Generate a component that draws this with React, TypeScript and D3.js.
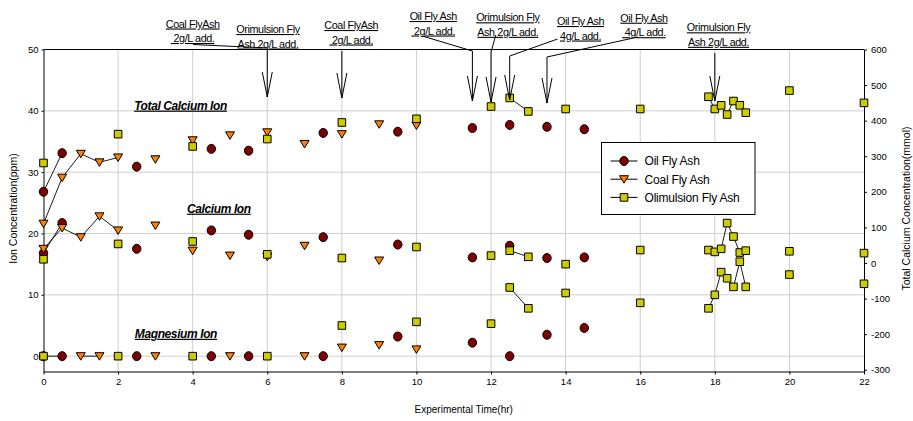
import { useEffect, useRef } from "react";
import { select, scaleLinear, axisLeft, axisRight, axisBottom, line } from "d3";

// sampling times (hr)
const oilTimes = [0, 0.5, 2.5, 4.5, 5.5, 7.5, 9.5, 11.5, 12.5, 13.5, 14.5];
const coalTimes = [0, 0.5, 1, 1.5, 2, 3, 4, 5, 6, 7, 8, 9, 10];
const olimTimes = [0, 2, 4, 6, 8, 10, 12, 12.5, 13, 14, 16, 17.83, 18, 18.17, 18.33, 18.5, 18.67, 18.83, 20, 22];

// Oil Fly Ash (ppm)
const oilTotal = [26.8, 33.1, 30.9, 33.8, 33.5, 36.4, 36.6, 37.2, 37.7, 37.4, 37.0];
const oilCalcium = [16.8, 21.7, 17.5, 20.5, 19.8, 19.4, 18.2, 16.1, 18.0, 16.0, 16.1];
const oilMagnesium = [0, 0, 0, 0, 0, 0, 3.2, 2.2, 0, 3.5, 4.6];

// Coal Fly Ash (ppm), null = hidden / not measured
const coalTotal = [21.6, 29.1, 33.0, 31.6, 32.4, 32.1, 35.2, 36.0, 36.5, 34.6, 36.2, 37.8, 37.6];
const coalCalcium = [17.5, 20.9, 19.4, 22.8, 20.5, 21.3, 17.2, 16.4, 16.2, 18.0, null, 15.6, null];
const coalMagnesium = [null, null, 0, 0, null, 0, null, 0, null, 0, 1.4, 1.8, 1.1];

// Olimulsion Fly Ash (ppm)
const olimTotal = [31.5, 36.2, 34.2, 35.4, 38.1, 38.7, 40.7, 42.1, 39.9, 40.3, 40.3, 42.3, 40.3, 40.9, 39.4, 41.6, 40.9, 39.7, 43.3, 41.3];
const olimCalcium = [15.8, 18.3, 18.7, 16.6, 16.0, 17.8, 16.4, 17.2, 16.2, 15.0, 17.3, 17.3, 17.0, 17.5, 21.7, 19.5, 16.9, 17.2, 17.1, 16.8];
const olimMagnesium = [0, 0, 0, 0, 5.0, 5.6, 5.3, 11.2, 7.8, 10.3, 8.7, 7.8, 10.0, 13.7, 12.7, 11.3, 15.4, 11.3, 13.3, 11.8];

// runs of points joined by a line (times)
const oilLinks = [[0, 0.5]];
const coalLinks = [[0, 0.5, 1, 1.5, 2]];
const coalMgLinks = [[1, 1.5]];
const olimLinks = [[12.5, 13], [17.83, 18, 18.17, 18.33, 18.5, 18.67, 18.83]];

const seriesNames = ["Oil Fly Ash", "Coal Fly Ash", "Olimulsion Fly Ash"];
const xTicks = [0, 2, 4, 6, 8, 10, 12, 14, 16, 18, 20, 22];
const yTicks = [0, 10, 20, 30, 40, 50];
const yRightTicks = [-300, -200, -100, 0, 100, 200, 300, 400, 500, 600];

const ionLabels = ["Total Calcium Ion", "Calcium Ion", "Magnesium Ion"];
const ionLabelAt = [[2.43, 40.2], [3.85, 23.4], [2.45, 3.0]];

const noteTexts = [
    ["Coal FlyAsh", " 2g/L add."],
    ["Orimulsion Fly", "Ash 2g/L add."],
    ["Coal FlyAsh", " 2g/L add."],
    ["Oil Fly Ash", " 2g/L add."],
    ["Orimulsion Fly", "Ash 2g/L add."],
    ["Oil Fly Ash", "4g/L add."],
    ["Oil Fly Ash", " 4g/L add."],
    ["Orimulsion Fly", "Ash 2g/L add."],
];
const noteAt = [4.0, 6.02, 8.25, 10.45, 12.45, 14.4, 16.1, 18.1];
const arrowTimes = [6, 8, 11.5, 12, 12.5, 13.5, 18];

const W = 913;
const H = 421;
const FONT = "'Liberation Sans', Arial, sans-serif";

function App() {
    const svgRef = useRef<SVGSVGElement>(null);

    useEffect(() => {
        const svg = select(svgRef.current);
        svg.selectAll("*").remove();

        const left = 43.5, right = 864, top = 49.5, bottom = 371.5;
        const xScale = scaleLinear().domain([0, 22]).range([left, right]);
        const yScale = scaleLinear().domain([-2.5, 50]).range([bottom, top]);
        const yRight = scaleLinear().domain([-305, 600]).range([bottom, top]);

        // grid
        const grid = svg.append("g").attr("stroke", "#cfcfcf").attr("stroke-width", 1);
        xTicks.slice(1, -1).forEach((t) => {
            grid.append("line").attr("x1", xScale(t)).attr("x2", xScale(t)).attr("y1", top).attr("y2", bottom);
        });
        yTicks.slice(0, -1).forEach((v) => {
            grid.append("line").attr("x1", left).attr("x2", right).attr("y1", yScale(v)).attr("y2", yScale(v));
        });

        // axes
        const styleAxis = (g: any) => {
            g.selectAll("text").style("font-family", FONT).style("font-size", "9.5px").attr("fill", "#000");
            g.selectAll("line").attr("stroke", "#000");
            g.select(".domain").attr("stroke", "#000");
        };
        svg.append("g")
            .attr("transform", `translate(${left},0)`)
            .call(axisLeft(yScale).tickValues(yTicks).tickSize(2).tickSizeOuter(0).tickPadding(3).tickFormat((d: any) => String(d)))
            .call(styleAxis);
        svg.append("g")
            .attr("transform", `translate(${right},0)`)
            .call(axisRight(yRight).tickValues(yRightTicks).tickSize(3).tickSizeOuter(0).tickPadding(4).tickFormat((d: any) => String(d)))
            .call(styleAxis);
        svg.append("g")
            .attr("transform", `translate(0,${bottom})`)
            .call(axisBottom(xScale).tickValues(xTicks).tickSize(3).tickSizeOuter(0).tickPadding(4).tickFormat((d: any) => String(d)))
            .call(styleAxis);
        svg.append("line").attr("x1", left).attr("x2", right).attr("y1", top).attr("y2", top).attr("stroke", "#000");

        // axis titles
        svg.append("text").attr("x", (left + right) / 2 + 10).attr("y", 413)
            .attr("text-anchor", "middle").style("font-family", FONT).style("font-size", "10px")
            .text("Experimental Time(hr)");
        svg.append("text").attr("transform", `translate(17,${(top + bottom) / 2 - 2}) rotate(-90)`)
            .attr("text-anchor", "middle").style("font-family", FONT).style("font-size", "10.5px")
            .text("Ion Concentration(ppm)");
        svg.append("text").attr("transform", `translate(910,${(top + bottom) / 2 - 2}) rotate(-90)`)
            .attr("text-anchor", "middle").style("font-family", FONT).style("font-size", "10.5px")
            .text("Total Calcium Concentration(mmol)");

        // series
        const markerPath: Record<string, string> = {
            circle: "M0,-4.5A4.2,4.5 0 1,1 0,4.5A4.2,4.5 0 1,1 0,-4.5Z",
            triangle: "M-4.5,-3.5L4.5,-3.5L0,4Z",
            square: "M-3.8,-3.8H3.8V3.8H-3.8Z",
        };
        const series = [
            { times: oilTimes, ions: [oilTotal, oilCalcium, oilMagnesium], links: [oilLinks, oilLinks, oilLinks], color: "#7f0000", shape: "circle" },
            { times: coalTimes, ions: [coalTotal, coalCalcium, coalMagnesium], links: [coalLinks, coalLinks, coalMgLinks], color: "#ff8000", shape: "triangle" },
            { times: olimTimes, ions: [olimTotal, olimCalcium, olimMagnesium], links: [olimLinks, olimLinks, olimLinks], color: "#cccc00", shape: "square" },
        ];

        const myLine = line<[number, number]>()
            .x((d) => xScale(d[0]))
            .y((d) => yScale(d[1]));

        series.forEach((s) => {
            s.ions.forEach((values, k) => {
                s.links[k].forEach((run) => {
                    const pts = run
                        .map((t) => [t, values[s.times.indexOf(t)]] as [number, number])
                        .filter((p) => p[1] !== null && p[1] !== undefined);
                    svg.append("path").attr("d", myLine(pts)).attr("fill", "none").attr("stroke", "#000").attr("stroke-width", 0.9);
                });
            });
        });

        series.forEach((s) => {
            s.ions.forEach((values) => {
                const pts = s.times.map((t, i) => [t, values[i]]).filter((p) => p[1] !== null);
                svg.append("g").selectAll("path").data(pts).join("path")
                    .attr("d", markerPath[s.shape])
                    .attr("transform", (d: any) => `translate(${xScale(d[0])},${yScale(d[1])})`)
                    .attr("fill", s.color).attr("stroke", "#000").attr("stroke-width", 1);
            });
        });

        // ion labels
        ionLabels.forEach((txt, i) => {
            svg.append("text").attr("x", xScale(ionLabelAt[i][0])).attr("y", yScale(ionLabelAt[i][1]))
                .style("font-family", FONT).style("font-size", "12px").style("font-weight", "bold").style("font-style", "italic")
                .style("letter-spacing", "-0.4px").style("text-decoration", "underline")
                .text(txt);
        });

        // addition notes
        const noteTop = [23.5, 29, 25, 16, 17.3, 21, 17.7, 27.3];
        noteTexts.forEach((lines, i) => {
            const t = svg.append("text").attr("text-anchor", "middle")
                .style("font-family", FONT).style("font-size", "10.8px").style("letter-spacing", "-0.4px")
                .style("text-decoration", "underline");
            lines.forEach((ln, j) => {
                t.append("tspan").attr("x", xScale(noteAt[i])).attr("y", noteTop[i] + 4 + j * 14.5)
                    .attr("xml:space", "preserve").text(ln);
            });
        });

        const arrowTop = [48, 51, 51, 52, 56, 57, 53];
        const arrowTip = [97, 98, 101, 102, 100, 103, 101];
        const arrows = svg.append("g").attr("stroke", "#000").attr("stroke-width", 1).attr("fill", "none");
        arrowTimes.forEach((t, i) => {
            const ax = xScale(t);
            arrows.append("line").attr("x1", ax).attr("x2", ax).attr("y1", arrowTop[i]).attr("y2", arrowTip[i]);
            arrows.append("path").attr("d", `M${ax - 5},${arrowTip[i] - 25}L${ax},${arrowTip[i]}L${ax + 5},${arrowTip[i] - 25}`);
        });
        // leaders: [note index, arrow index, start dx, start y]
        const leaders = [[0, 0, 0.5, 44.5], [3, 2, -11, 36], [4, 3, -12, 35], [5, 4, -23, 39], [6, 5, -6, 37]];
        leaders.forEach(([n, a, dx, sy]) => {
            arrows.append("line")
                .attr("x1", xScale(noteAt[n]) + dx).attr("y1", sy)
                .attr("x2", xScale(arrowTimes[a])).attr("y2", arrowTop[a]);
        });

        // legend
        const lg = svg.append("g").attr("transform", "translate(601.5,142.5)");
        lg.append("rect").attr("width", 153.5).attr("height", 72).attr("fill", "#fff").attr("stroke", "#000");
        series.forEach((s, i) => {
            const ly = 18.5 + i * 18.2;
            lg.append("line").attr("x1", 9).attr("x2", 36).attr("y1", ly).attr("y2", ly).attr("stroke", "#000");
            lg.append("path").attr("d", markerPath[s.shape]).attr("transform", `translate(22.5,${ly})`)
                .attr("fill", s.color).attr("stroke", "#000");
            lg.append("text").attr("x", 43).attr("y", ly + 4.3)
                .style("font-family", FONT).style("font-size", "12px").style("letter-spacing", "-0.2px")
                .text(seriesNames[i]);
        });
    }, []);

    return (
        <svg ref={svgRef} width={W} height={H} style={{ position: "absolute", left: 0, top: 0, background: "#fff" }}></svg>
    );
}

export default App;
